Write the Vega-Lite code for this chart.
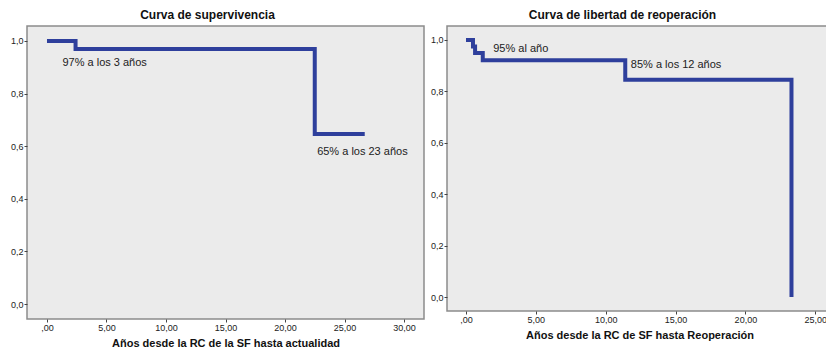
{
  "$schema": "https://vega.github.io/schema/vega-lite/v6.json",
  "background": "white",
  "padding": {"left": 9, "top": 8, "right": 0, "bottom": 0},
  "spacing": 4,
  "datasets": {
    "surv": [
      {"t": 0, "s": 1.0},
      {"t": 2.4, "s": 0.97},
      {"t": 22.5, "s": 0.646},
      {"t": 26.7, "s": 0.646}
    ],
    "survLab": [
      {"t": 1.3, "s": 0.916, "label": "97% a los 3 años"},
      {"t": 22.7, "s": 0.578, "label": "65% a los 23 años"}
    ],
    "reop": [
      {"t": 0, "s": 1.0},
      {"t": 0.5, "s": 0.974},
      {"t": 0.65, "s": 0.949},
      {"t": 1.2, "s": 0.921},
      {"t": 11.4, "s": 0.845},
      {"t": 23.3, "s": 0.0}
    ],
    "reopLab": [
      {"t": 1.95, "s": 0.965, "label": "95% al año"},
      {"t": 11.8, "s": 0.903, "label": "85% a los 12 años"}
    ]
  },
  "hconcat": [
    {
      "width": 397,
      "height": 293,
      "title": {"text": "Curva de supervivencia", "dx": -18},
      "layer": [
        {
          "data": {"name": "surv"},
          "mark": {"type": "line", "interpolate": "step-after", "strokeWidth": 4, "color": "#2e3f9c", "strokeCap": "butt", "clip": true},
          "encoding": {
            "x": {"field": "t", "type": "quantitative", "scale": {"domain": [-1.68, 31.68], "nice": false, "zero": false},
              "axis": {"values": [0, 5, 10, 15, 20, 25, 30], "title": "Años desde la RC de la SF hasta actualidad",
                "labelExpr": "datum.value == 0 ? ',00' : replace(format(datum.value, '.2f'), '.', ',')"}},
            "y": {"field": "s", "type": "quantitative", "scale": {"domain": [-0.057, 1.057], "nice": false, "zero": false},
              "axis": {"values": [0, 0.2, 0.4, 0.6, 0.8, 1.0], "title": null,
                "labelExpr": "replace(format(datum.value, '.1f'), '.', ',')"}}
          }
        },
        {
          "data": {"name": "survLab"},
          "mark": {"type": "text", "align": "left", "baseline": "middle", "font": "Liberation Sans", "fontSize": 11, "color": "#222222"},
          "encoding": {
            "x": {"field": "t", "type": "quantitative"},
            "y": {"field": "s", "type": "quantitative"},
            "text": {"field": "label"}
          }
        }
      ]
    },
    {
      "width": 385,
      "height": 285,
      "title": {"text": "Curva de libertad de reoperación", "dx": -17},
      "layer": [
        {
          "data": {"name": "reop"},
          "mark": {"type": "line", "interpolate": "step-after", "strokeWidth": 4, "color": "#2e3f9c", "strokeCap": "butt", "clip": true},
          "encoding": {
            "x": {"field": "t", "type": "quantitative", "scale": {"domain": [-1.36, 26.2], "nice": false, "zero": false},
              "axis": {"values": [0, 5, 10, 15, 20, 25], "title": "Años desde la RC de SF hasta Reoperación",
                "labelExpr": "datum.value == 0 ? ',00' : replace(format(datum.value, '.2f'), '.', ',')"}},
            "y": {"field": "s", "type": "quantitative", "scale": {"domain": [-0.054, 1.054], "nice": false, "zero": false},
              "axis": {"values": [0, 0.2, 0.4, 0.6, 0.8, 1.0], "title": null,
                "labelExpr": "replace(format(datum.value, '.1f'), '.', ',')"}}
          }
        },
        {
          "data": {"name": "reopLab"},
          "mark": {"type": "text", "align": "left", "baseline": "middle", "font": "Liberation Sans", "fontSize": 11, "color": "#222222"},
          "encoding": {
            "x": {"field": "t", "type": "quantitative"},
            "y": {"field": "s", "type": "quantitative"},
            "text": {"field": "label"}
          }
        }
      ]
    }
  ],
  "config": {
    "view": {"fill": "#ebebeb", "stroke": "#8c8c8c", "strokeWidth": 1.5},
    "title": {"font": "Liberation Sans", "fontSize": 12, "fontWeight": "bold", "color": "#111111", "offset": 4, "anchor": "middle", "frame": "group"},
    "axis": {
      "domain": false,
      "grid": false,
      "tickSize": 3,
      "tickColor": "#444444",
      "labelFont": "Liberation Sans",
      "labelFontSize": 9,
      "labelColor": "#222222",
      "labelPadding": 1,
      "titleFont": "Liberation Sans",
      "titleFontSize": 11,
      "titleFontWeight": "bold",
      "titleColor": "#111111",
      "titlePadding": 5
    }
  }
}
